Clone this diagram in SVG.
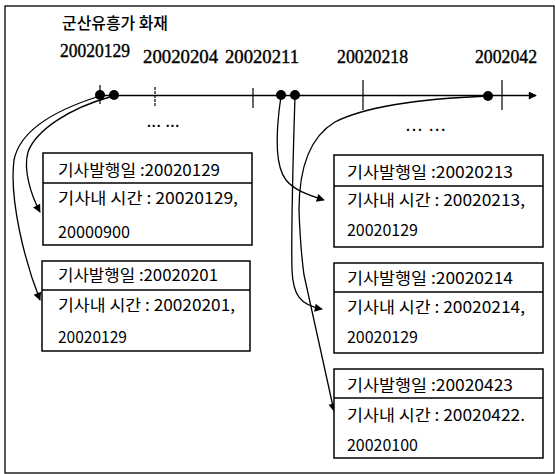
<svg xmlns="http://www.w3.org/2000/svg" width="555" height="474" viewBox="0 0 555 474">
<style>
.frame{fill:none;stroke:#000;stroke-width:1.3}
.box{fill:#fff;stroke:#000;stroke-width:1.5}
.div{stroke:#000;stroke-width:1.3}
.axis{stroke:#000;stroke-width:1.5;fill:none}
.tick{stroke:#000;stroke-width:1.2}
.dot{fill:#000}
.con{fill:none;stroke:#000;stroke-width:1.3}
.t{font-family:"Noto Sans CJK KR","Liberation Sans",sans-serif;font-size:16px;fill:#000}
.d{font-family:"Liberation Serif","DejaVu Serif",serif;font-size:19px;fill:#000;stroke:#000;stroke-width:0.4}
.title{font-family:"Noto Sans CJK KR",sans-serif;font-size:16px;font-weight:500;fill:#000}
.ell{font-family:"Liberation Sans",sans-serif;font-size:14px;font-weight:bold;fill:#000}
</style>
<defs>
<marker id="ah" viewBox="0 0 10 10" refX="9" refY="5" markerWidth="11" markerHeight="8" markerUnits="userSpaceOnUse" orient="auto">
<path d="M0,0 L10,5 L0,10 z" fill="#000"/>
</marker>
</defs>
<rect class="frame" x="5" y="6" width="549" height="467"/>
<g id="title"><text class="title" x="62" y="29" textLength="106" lengthAdjust="spacingAndGlyphs">군산유흥가 화재</text></g>
<g id="timeline">
<text class="d" x="60" y="57" textLength="70" lengthAdjust="spacingAndGlyphs">20020129</text>
<text class="d" x="143" y="63" textLength="75" lengthAdjust="spacingAndGlyphs">20020204</text>
<text class="d" x="225" y="63" textLength="74" lengthAdjust="spacingAndGlyphs">20020211</text>
<text class="d" x="337" y="63" textLength="71" lengthAdjust="spacingAndGlyphs">20020218</text>
<text class="d" x="475" y="63" textLength="62" lengthAdjust="spacingAndGlyphs">2002042</text>
<line class="axis" x1="100" y1="95.5" x2="536" y2="95.5" marker-end="url(#ah)"/>
<line class="tick" x1="100" y1="85" x2="100" y2="104"/>
<line class="tick" x1="155" y1="87" x2="155" y2="106" stroke-dasharray="3,1"/>
<line class="tick" x1="253" y1="88" x2="253" y2="108"/>
<line class="tick" x1="363" y1="80" x2="363" y2="110"/>
<line class="tick" x1="502" y1="80" x2="502" y2="110"/>
<circle class="dot" cx="100" cy="95" r="5"/>
<circle class="dot" cx="114" cy="95" r="5"/>
<circle class="dot" cx="281" cy="95" r="5"/>
<circle class="dot" cx="295" cy="95" r="5"/>
<circle class="dot" cx="488" cy="96" r="5"/>
<text class="ell" x="147" y="131" textLength="33" lengthAdjust="spacing">··· ···</text>
<text class="ell" x="406" y="135" textLength="40" lengthAdjust="spacing">··· ···</text>
</g>
<g id="connectors">
<path class="con" d="M100,96 C55,110 20,130 14,160 C9,200 25,262 40,300" marker-end="url(#ah)"/>
<path class="con" d="M110,97 C70,108 36,130 28,152 C23,170 31,195 40,212" marker-end="url(#ah)"/>
<path class="con" d="M281,96 C276,130 274,165 286,180 C294,190 308,195 324,200" marker-end="url(#ah)"/>
<path class="con" d="M295,96 C293,160 291,230 292,270 C293,295 300,305 322,309" marker-end="url(#ah)"/>
<path class="con" d="M488,96 C440,98 370,104 335,122 C308,138 299,170 299,210 C300,240 302,260 304,275 L334,411" marker-end="url(#ah)"/>
</g>
<g id="box-l1">
<rect class="box" x="43" y="153" width="209" height="92"/>
<line class="div" x1="43" y1="183" x2="252" y2="183"/>
<text class="t" x="58" y="176" textLength="162" lengthAdjust="spacingAndGlyphs">기사발행일 :20020129</text>
<text class="t" x="58" y="204" textLength="180" lengthAdjust="spacingAndGlyphs">기사내 시간 : 20020129,</text>
<text class="t" x="58" y="238" textLength="72" lengthAdjust="spacingAndGlyphs">20000900</text>
</g>
<g id="box-l2">
<rect class="box" x="42" y="261" width="208" height="90"/>
<line class="div" x1="42" y1="290" x2="250" y2="290"/>
<text class="t" x="58" y="281" textLength="160" lengthAdjust="spacingAndGlyphs">기사발행일 :20020201</text>
<text class="t" x="58" y="311" textLength="177" lengthAdjust="spacingAndGlyphs">기사내 시간 : 20020201,</text>
<text class="t" x="58" y="343" textLength="69" lengthAdjust="spacingAndGlyphs">20020129</text>
</g>
<g id="box-r1">
<rect class="box" x="334" y="155" width="209" height="92"/>
<line class="div" x1="334" y1="186" x2="543" y2="186"/>
<text class="t" x="347" y="178" textLength="166" lengthAdjust="spacingAndGlyphs">기사발행일 :20020213</text>
<text class="t" x="347" y="206" textLength="178" lengthAdjust="spacingAndGlyphs">기사내 시간 : 20020213,</text>
<text class="t" x="347" y="236" textLength="71" lengthAdjust="spacingAndGlyphs">20020129</text>
</g>
<g id="box-r2">
<rect class="box" x="334" y="263" width="209" height="90"/>
<line class="div" x1="334" y1="292" x2="543" y2="292"/>
<text class="t" x="347" y="284" textLength="166" lengthAdjust="spacingAndGlyphs">기사발행일 :20020214</text>
<text class="t" x="347" y="313" textLength="178" lengthAdjust="spacingAndGlyphs">기사내 시간 : 20020214,</text>
<text class="t" x="347" y="343" textLength="71" lengthAdjust="spacingAndGlyphs">20020129</text>
</g>
<g id="box-r3">
<rect class="box" x="334" y="369" width="209" height="89"/>
<line class="div" x1="334" y1="398" x2="543" y2="398"/>
<text class="t" x="347" y="391" textLength="166" lengthAdjust="spacingAndGlyphs">기사발행일 :20020423</text>
<text class="t" x="347" y="421" textLength="178" lengthAdjust="spacingAndGlyphs">기사내 시간 : 20020422.</text>
<text class="t" x="347" y="451" textLength="71" lengthAdjust="spacingAndGlyphs">20020100</text>
</g>
</svg>
